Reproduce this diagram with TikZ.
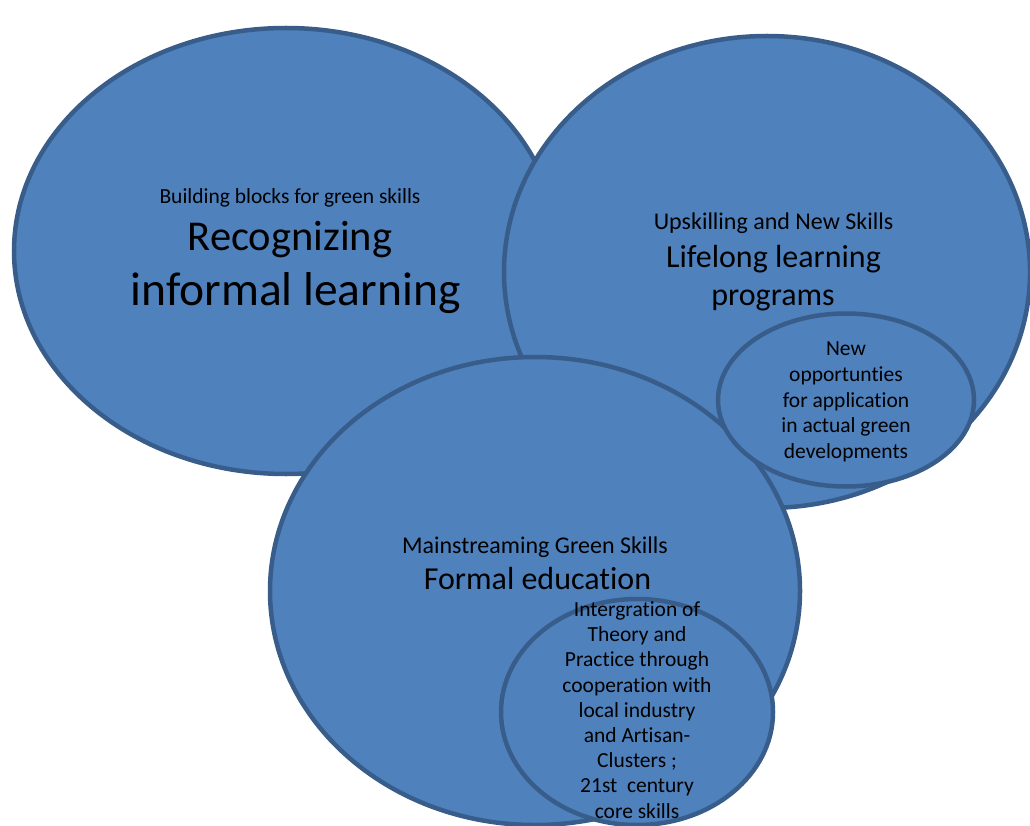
\documentclass[tikz,border=0pt]{standalone}
\usepackage{fontspec}
\setmainfont[Ligatures=NoCommon]{Carlito}
\usepackage{xcolor}
\usepackage{tikz}
\usetikzlibrary{shapes.geometric,positioning}

\definecolor{bubblefill}{HTML}{4F81BD}
\definecolor{bubbleline}{HTML}{385D8A}

\tikzset{
  bubble/.style={ellipse, draw=bubbleline, fill=bubblefill, line width=4.5pt, inner sep=0pt, outer sep=0pt},
  note/.style={align=center, text=black, inner sep=0pt},
  heading/.style={note, anchor=base},
  small/.style={font=\fontsize{21.5}{25.6}\selectfont},
}

\begin{document}
\begin{tikzpicture}[x=1pt, y=-1pt]
    \useasboundingbox (0,0) rectangle (1030,826);
    \clip (0,0) rectangle (1030,826);

    \node (informal) [bubble, minimum width=544pt, minimum height=446pt] at (286,251) {};
    \node (lifelong) [bubble, minimum width=526pt, minimum height=472pt] at (767,272) {};
    \node (formal) [bubble, minimum width=530pt, minimum height=468pt] at (535,591) {};
    \node (green) [bubble, minimum width=256pt, minimum height=173pt] at (846,400) {};
    \node (cluster) [bubble, minimum width=272pt, minimum height=226pt] at (637,712) {};

    \node (informalsub) [heading, font=\fontsize{21.5}{24}\selectfont] at (290,204) {Building blocks for green skills};
    \node (informaltop) [heading, font=\fontsize{42.5}{48}\selectfont] at (290,251) {Recognizing};
    \node (informalbot) [heading, font=\fontsize{47.5}{52}\selectfont] at (295.5,305) {informal learning};

    \node (lifelongsub) [heading, font=\fontsize{24}{28}\selectfont] at (773.5,230) {Upskilling and New Skills};
    \node (lifelongtop) [heading, font=\fontsize{32}{36}\selectfont] at (773.5,268) {Lifelong learning};
    \node (lifelongbot) [heading, font=\fontsize{32}{36}\selectfont] at (773,305) {programs};

    \node (formalsub) [heading, font=\fontsize{24}{28}\selectfont] at (535,553) {Mainstreaming Green Skills};
    \node (formaltitle) [heading, font=\fontsize{32}{36}\selectfont] at (537.5,589) {Formal education};

    \node (greentext) [note, small] at (846,402) {New\\opportunties\\for application\\in actual green\\developments};
    \node (clustertext) [note, font=\fontsize{21.5}{25.2}\selectfont] at (637,710) {Intergration of\\Theory and\\Practice through\\cooperation with\\local industry\\and Artisan-\\Clusters ;\\21st\ \ century\\core skills};
\end{tikzpicture}
\end{document}
